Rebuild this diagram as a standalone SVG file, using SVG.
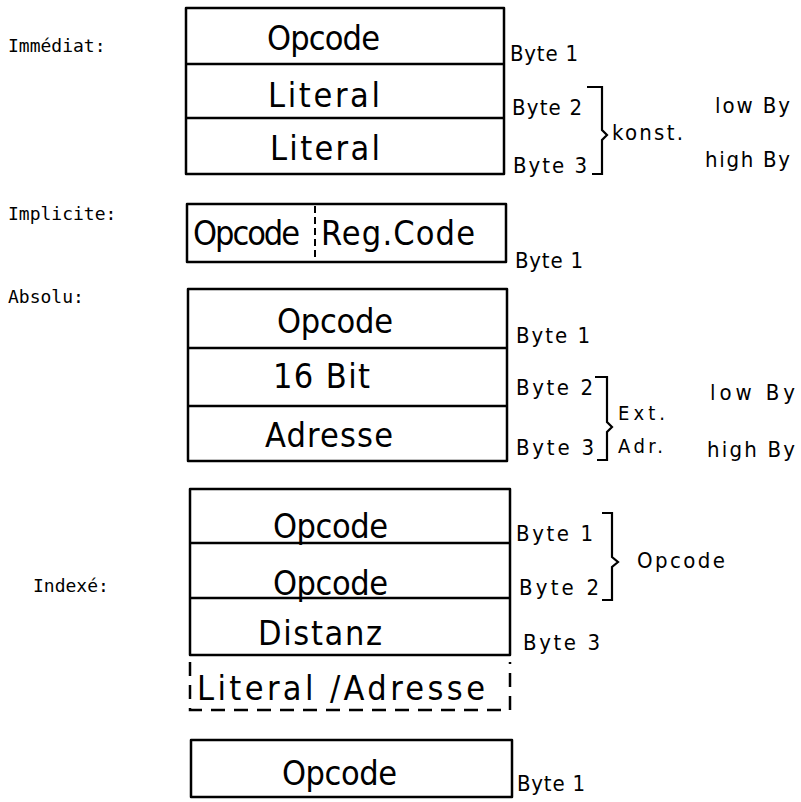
<svg xmlns="http://www.w3.org/2000/svg" width="801" height="802" viewBox="0 0 801 802">
<style>
.box{fill:none;stroke:#000;stroke-width:2.5;stroke-linejoin:round}
.div{stroke:#000;stroke-width:2.5;fill:none}
.dash{stroke:#000;stroke-width:2.5;fill:none;stroke-dasharray:14 9}
.dot{stroke:#000;stroke-width:2;fill:none;stroke-dasharray:7 4}
.br{stroke:#000;stroke-width:2.2;fill:none;stroke-linejoin:miter}
.big{font-family:"DejaVu Sans Condensed","Liberation Sans",sans-serif;font-size:34px;fill:#000}
.sm{font-family:"DejaVu Sans Condensed","Liberation Sans",sans-serif;font-size:22px;fill:#000}
.xs{font-family:"DejaVu Sans Condensed","Liberation Sans",sans-serif;font-size:20px;fill:#000}
.mono{font-family:"DejaVu Sans Mono","Liberation Mono",monospace;font-size:18px;fill:#000}
</style>
<rect width="801" height="802" fill="#fff"/>

<g id="immediat">
<text class="mono" x="8" y="52">Immédiat:</text>
<rect class="box" x="186" y="8" width="318" height="166"/>
<line class="div" x1="186" y1="64" x2="504" y2="64"/>
<line class="div" x1="186" y1="118" x2="504" y2="118"/>
<text class="big" x="267" y="50" textLength="113" lengthAdjust="spacing">Opcode</text>
<text class="big" x="268" y="107" textLength="112" lengthAdjust="spacing">Literal</text>
<text class="big" x="270" y="160" textLength="110" lengthAdjust="spacing">Literal</text>
<text class="sm" x="510" y="61" textLength="68" lengthAdjust="spacing">Byte 1</text>
<text class="sm" x="512" y="115" textLength="70" lengthAdjust="spacing">Byte 2</text>
<text class="sm" x="513" y="173" textLength="74" lengthAdjust="spacing">Byte 3</text>
<text class="sm" x="612" y="140" textLength="71" lengthAdjust="spacing">konst.</text>
<text class="sm" x="715" y="113" textLength="75" lengthAdjust="spacing">low By</text>
<text class="sm" x="705" y="167" textLength="85" lengthAdjust="spacing">high By</text>
</g>

<g id="implicite">
<text class="mono" x="8" y="220">Implicite:</text>
<rect class="box" x="187" y="204" width="319" height="58"/>
<line class="dot" x1="315" y1="206" x2="315" y2="261"/>
<text class="big" x="193" y="245" textLength="107" lengthAdjust="spacing">Opcode</text>
<text class="big" x="321" y="245" textLength="154" lengthAdjust="spacing">Reg.Code</text>
<text class="sm" x="515" y="268" textLength="68" lengthAdjust="spacing">Byte 1</text>
</g>

<g id="absolu">
<text class="mono" x="8" y="303">Absolu:</text>
<rect class="box" x="188" y="289" width="319" height="172"/>
<line class="div" x1="188" y1="348" x2="507" y2="348"/>
<line class="div" x1="188" y1="406" x2="507" y2="406"/>
<text class="big" x="277" y="333" textLength="116" lengthAdjust="spacing">Opcode</text>
<text class="big" x="273" y="388" textLength="97" lengthAdjust="spacing">16 Bit</text>
<text class="big" x="265" y="447" textLength="128" lengthAdjust="spacing">Adresse</text>
<text class="sm" x="516" y="343" textLength="74" lengthAdjust="spacing">Byte 1</text>
<text class="sm" x="516" y="395" textLength="77" lengthAdjust="spacing">Byte 2</text>
<text class="sm" x="516" y="455" textLength="78" lengthAdjust="spacing">Byte 3</text>
<text class="xs" x="618" y="420" textLength="47" lengthAdjust="spacing">Ext.</text>
<text class="xs" x="618" y="453" textLength="45" lengthAdjust="spacing">Adr.</text>
<text class="sm" x="710" y="400" textLength="85" lengthAdjust="spacing">low By</text>
<text class="sm" x="707" y="457" textLength="88" lengthAdjust="spacing">high By</text>
</g>

<g id="indexe">
<text class="mono" x="33" y="592">Indexé:</text>
<rect class="box" x="190" y="489" width="320" height="166"/>
<line class="div" x1="190" y1="543" x2="510" y2="543"/>
<line class="div" x1="190" y1="598" x2="510" y2="598"/>
<path class="dash" d="M190,662 V710 H510 V662"/>
<text class="big" x="273" y="538" textLength="115" lengthAdjust="spacing">Opcode</text>
<text class="big" x="273" y="595" textLength="115" lengthAdjust="spacing">Opcode</text>
<text class="big" x="258" y="645" textLength="124" lengthAdjust="spacing">Distanz</text>
<text class="big" x="197" y="700" textLength="288" lengthAdjust="spacing">Literal /Adresse</text>
<text class="sm" x="516" y="541" textLength="77" lengthAdjust="spacing">Byte 1</text>
<text class="sm" x="519" y="595" textLength="80" lengthAdjust="spacing">Byte 2</text>
<text class="sm" x="523" y="650" textLength="77" lengthAdjust="spacing">Byte 3</text>
<text class="sm" x="637" y="568" textLength="88" lengthAdjust="spacing">Opcode</text>
</g>

<g id="einzel">
<rect class="box" x="191" y="740" width="321" height="57"/>
<text class="big" x="282" y="785" textLength="115" lengthAdjust="spacing">Opcode</text>
<text class="sm" x="517" y="791" textLength="68" lengthAdjust="spacing">Byte 1</text>
</g>

<g id="connectors">
<path class="br" d="M587,87 H602 V130 L607,135 L602,140 V174 H592"/>
<path class="br" d="M595,377 H607 V422 L612,427 L607,432 V460 H597"/>
<path class="br" d="M602,513 H612 V557 L618,562 L612,567 V600 H602"/>
</g>
</svg>
